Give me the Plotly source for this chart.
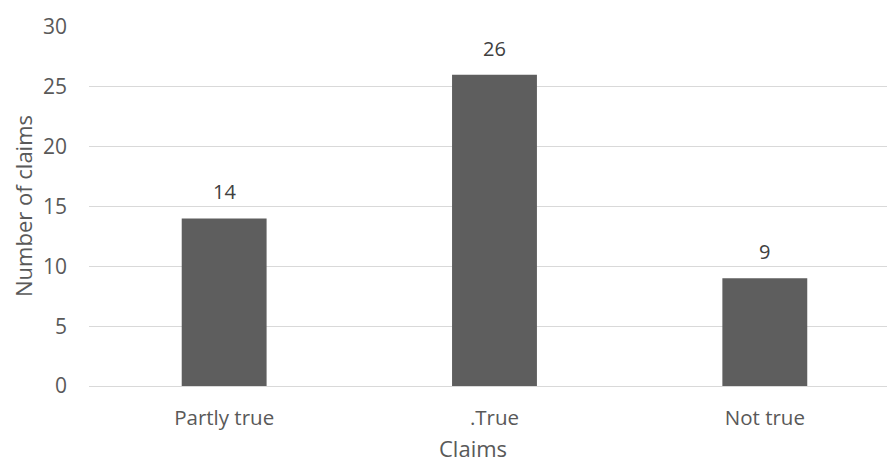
import plotly.graph_objects as go

categories = ["Partly true", ".True", "Not true"]
values = [14, 26, 9]
y_ticks = [0, 5, 10, 15, 20, 25, 30]

text_color = "#595959"
font_family = "Open Sans"

L, R, T, B = 89, 887, 27, 386  # plot area in pixels

fig = go.Figure(
    go.Bar(
        x=categories,
        y=values,
        width=0.314,
        marker=dict(color="#5e5e5e", line=dict(width=0)),
        hoverinfo="x+y",
    )
)

annotations = []
for c, v in zip(categories, values):
    annotations.append(
        dict(
            x=c, y=v, xref="x", yref="y",
            text=str(v), showarrow=False,
            xanchor="center", yanchor="bottom", yshift=11,
            font=dict(size=20, color="#404040", family=font_family),
        )
    )

annotations.append(
    dict(
        text="Claims", xref="paper", yref="paper",
        x=(473 - L) / (R - L), y=-(464 - B) / (B - T),
        xanchor="center", yanchor="bottom", showarrow=False, borderpad=0,
        font=dict(size=22, color=text_color, family=font_family),
    )
)
annotations.append(
    dict(
        text="Number of claims", xref="paper", yref="paper",
        x=-(L - 23) / (R - L), y=0.5 + (((B + T) / 2) - 206) / (B - T),
        xanchor="center", yanchor="middle", textangle=-90, showarrow=False,
        font=dict(size=22, color=text_color, family=font_family),
    )
)

fig.update_layout(
    width=887,
    height=464,
    margin=dict(l=L, r=887 - R, t=T, b=464 - B),
    paper_bgcolor="white",
    plot_bgcolor="white",
    showlegend=False,
    font=dict(family=font_family, color=text_color, size=20),
    xaxis=dict(
        range=[-0.5, 2.452],
        showgrid=False,
        showline=False,
        ticks="",
        tickfont=dict(size=20.5, color=text_color),
        ticklabelstandoff=17,
    ),
    yaxis=dict(
        range=[0, 30],
        tickvals=y_ticks,
        showgrid=True,
        gridcolor="#d9d9d9",
        gridwidth=1,
        zeroline=True,
        zerolinecolor="#d9d9d9",
        zerolinewidth=1,
        ticks="",
        tickfont=dict(size=21, color=text_color),
        ticklabelstandoff=21,
    ),
    annotations=annotations,
)

fig.write_html("out.html")
